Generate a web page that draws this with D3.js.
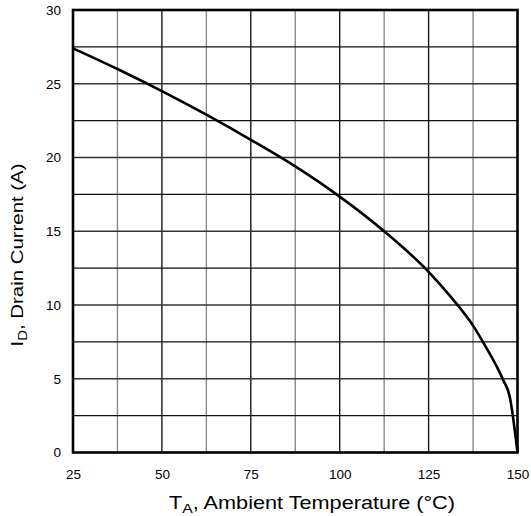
<!DOCTYPE html>
<html><head><meta charset="utf-8">
<script src="https://cdn.jsdelivr.net/npm/d3@7"></script>
<style>body{margin:0;background:#fff}svg{display:block}text{font-family:"Liberation Sans",Arial,sans-serif;fill:#000}</style>
</head><body><div id="chart"></div>
<script>
const temps = [25, 37.5, 50, 62.5, 75, 87.5, 100, 112.5, 125, 131.25, 137.5, 141, 144, 146, 147.8, 150];
const currents = [27.4, 26.0, 24.5, 22.9, 21.2, 19.4, 17.35, 15.0, 12.25, 10.55, 8.6, 7.2, 5.9, 4.9, 3.8, 0];
const xTicks = [25, 50, 75, 100, 125, 150];
const yTicks = [0, 5, 10, 15, 20, 25, 30];
const xGrid = [37.5, 50, 62.5, 75, 87.5, 100, 112.5, 125, 137.5];
const yGrid = [2.5, 5, 7.5, 10, 12.5, 15, 17.5, 20, 22.5, 25, 27.5];

const W = 531, H = 516;
const m = {left: 73, right: 13.5, top: 10, bottom: 63.5};
const svg = d3.select("#chart").append("svg").attr("width", W).attr("height", H);
const x = d3.scaleLinear().domain([25, 150]).range([m.left, W - m.right]);
const y = d3.scaleLinear().domain([0, 30]).range([H - m.bottom, m.top]);

// grid
svg.append("g").selectAll("line").data(xGrid).join("line")
  .attr("x1", d => x(d)).attr("x2", d => x(d)).attr("y1", y(0)).attr("y2", y(30))
  .attr("stroke", d => d % 25 === 0 ? "#1a1a1a" : "#8a8a8a").attr("stroke-width", 1.4);
svg.append("g").selectAll("line").data(yGrid).join("line")
  .attr("x1", x(25)).attr("x2", x(150)).attr("y1", d => y(d)).attr("y2", d => y(d))
  .attr("stroke", d => d % 5 === 0 ? "#333" : "#111").attr("stroke-width", d => d % 5 === 0 ? 1.4 : 1.1);

// frame
svg.append("rect").attr("x", x(25)).attr("y", y(30)).attr("width", x(150) - x(25)).attr("height", y(0) - y(30))
  .attr("fill", "none").attr("stroke", "#000").attr("stroke-width", 2.6);

// curve
const pts = temps.map((t, i) => [t, currents[i]]);
svg.append("path").datum(pts)
  .attr("d", d3.line().x(d => x(d[0])).y(d => y(d[1])).curve(d3.curveMonotoneX))
  .attr("fill", "none").attr("stroke", "#000").attr("stroke-width", 2.6).attr("stroke-linejoin", "round");

// tick labels
const xAxis = svg.append("g").attr("transform", `translate(0,${y(0)})`)
  .call(d3.axisBottom(x).tickValues(xTicks).tickSize(0).tickPadding(17).tickFormat(d3.format("d")));
xAxis.select(".domain").remove();
xAxis.selectAll("text").attr("font-size", "13.5px").style("font-family", '"Liberation Sans",Arial,sans-serif');

const yAxis = svg.append("g").attr("transform", `translate(${x(25)},0)`)
  .call(d3.axisLeft(y).tickValues(yTicks).tickSize(0).tickPadding(12).tickFormat(d3.format("d")));
yAxis.select(".domain").remove();
yAxis.selectAll("text").attr("font-size", "13.5px").style("font-family", '"Liberation Sans",Arial,sans-serif');

// axis titles
const xt = svg.append("text").attr("x", 312).attr("y", 508.5).attr("text-anchor", "middle").attr("font-size", "18.5px")
  .attr("textLength", 286).attr("lengthAdjust", "spacingAndGlyphs");
xt.append("tspan").text("T");
xt.append("tspan").attr("font-size", "13.5px").attr("dy", 4).text("A");
xt.append("tspan").attr("dy", -4).text(", Ambient Temperature (°C)");

const yt = svg.append("text").attr("transform", "translate(23,255) rotate(-90)").attr("text-anchor", "middle").attr("font-size", "17px")
  .attr("textLength", 183).attr("lengthAdjust", "spacingAndGlyphs");
yt.append("tspan").text("I");
yt.append("tspan").attr("font-size", "12.5px").attr("dy", 4).text("D");
yt.append("tspan").attr("dy", -4).text(", Drain Current (A)");
</script></body></html>
